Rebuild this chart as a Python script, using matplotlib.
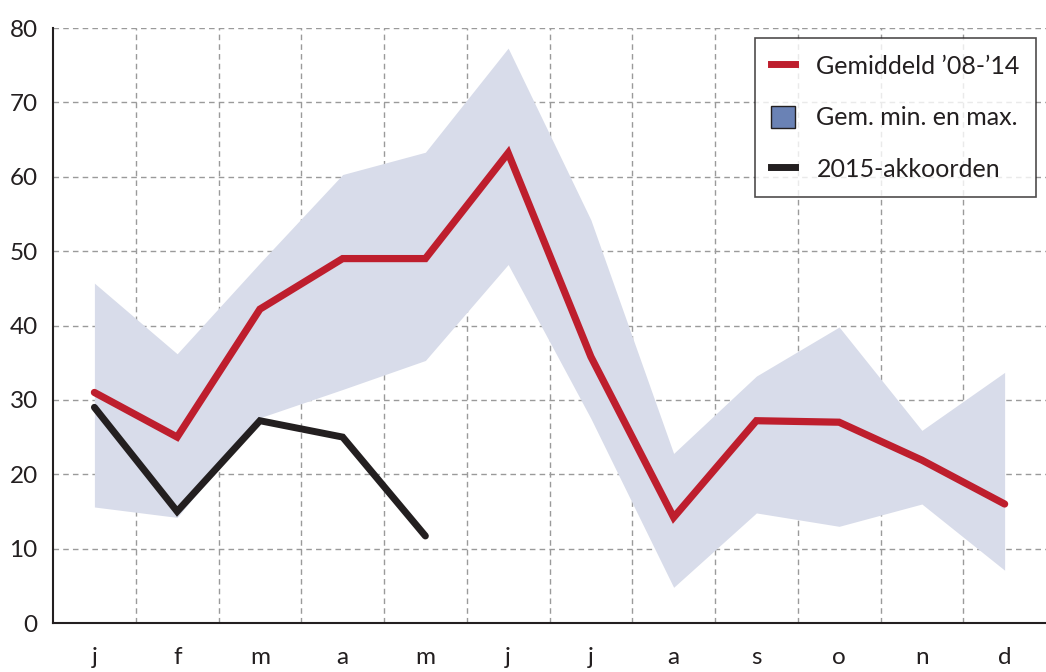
import matplotlib.pyplot as plt
from matplotlib.lines import Line2D
from matplotlib.patches import Patch

plt.rcParams['font.family'] = ['Lato', 'DejaVu Sans']

months = ['j', 'f', 'm', 'a', 'm', 'j', 'j', 'a', 's', 'o', 'n', 'd']
gem_0814 = [31, 25, 42.2, 49, 49, 63.2, 35.8, 14.2, 27.2, 27, 21.9, 16]
gem_max = [45.7, 36.2, 48.4, 60.3, 63.3, 77.3, 54.2, 22.8, 33.2, 39.8, 25.9, 33.7]
gem_min = [15.6, 14.2, 27.6, 31.4, 35.3, 48.2, 27.5, 4.8, 14.8, 13, 16, 7.1]
akk_2015 = [29, 15, 27.2, 25, 11.7]

red = '#be1e2d'
black = '#231f20'
band = '#d8dcea'

fig = plt.figure(figsize=(10.46, 6.72), dpi=100)
ax = fig.add_axes([0.0507, 0.0729, 0.9493, 0.8854])

x = list(range(len(months)))
ax.fill_between(x, gem_min, gem_max, color=band, lw=0, zorder=1)
ax.plot(x, gem_0814, color=red, lw=5.2, solid_capstyle='round',
        solid_joinstyle='miter', zorder=3)
ax.plot(x[:len(akk_2015)], akk_2015, color=black, lw=5,
        solid_capstyle='round', solid_joinstyle='miter', zorder=3)

ax.set_xlim(-0.5, 11.5)
ax.set_ylim(0, 80)
ax.set_yticks(range(0, 81, 10))
ax.set_xticks(x)
ax.set_xticklabels(months)
ax.set_xticks([i + 0.5 for i in range(11)], minor=True)
ax.tick_params(axis='both', which='both', length=0, labelsize=17.5, colors='#231f20')
ax.tick_params(axis='y', pad=11)
ax.tick_params(axis='x', pad=17)

ax.grid(True, axis='y', which='major', ls=(0, (4, 3)), color='#9a9a9a', lw=1, zorder=0)
ax.grid(True, axis='x', which='minor', ls=(0, (4, 3)), color='#9a9a9a', lw=1, zorder=0)
ax.grid(False, axis='x', which='major')
ax.set_axisbelow(True)

for s in ['top', 'right']:
    ax.spines[s].set_visible(False)
for s in ['left', 'bottom']:
    ax.spines[s].set_color('#231f20')
    ax.spines[s].set_linewidth(1.5)
    ax.spines[s].set_zorder(4)

handles = [
    Line2D([0], [0], color=red, lw=5),
    Patch(facecolor='#6a82b5', edgecolor='#231f20', lw=1),
    Line2D([0], [0], color=black, lw=5),
]
labels = ["Gemiddeld \u201908-\u201914", 'Gem. min. en max.', '2015-akkoorden']
leg = ax.legend(handles, labels, loc='upper right', bbox_to_anchor=(0.990, 0.983),
                fontsize=18, frameon=True, fancybox=False, edgecolor='#231f20',
                labelspacing=1.1, handlelength=0.95, handleheight=1.0,
                handletextpad=0.85, borderpad=0.65, borderaxespad=0)
leg.get_frame().set_linewidth(1.2)
for t in leg.get_texts():
    t.set_color('#231f20')

fig.savefig('out.png', dpi=100)
